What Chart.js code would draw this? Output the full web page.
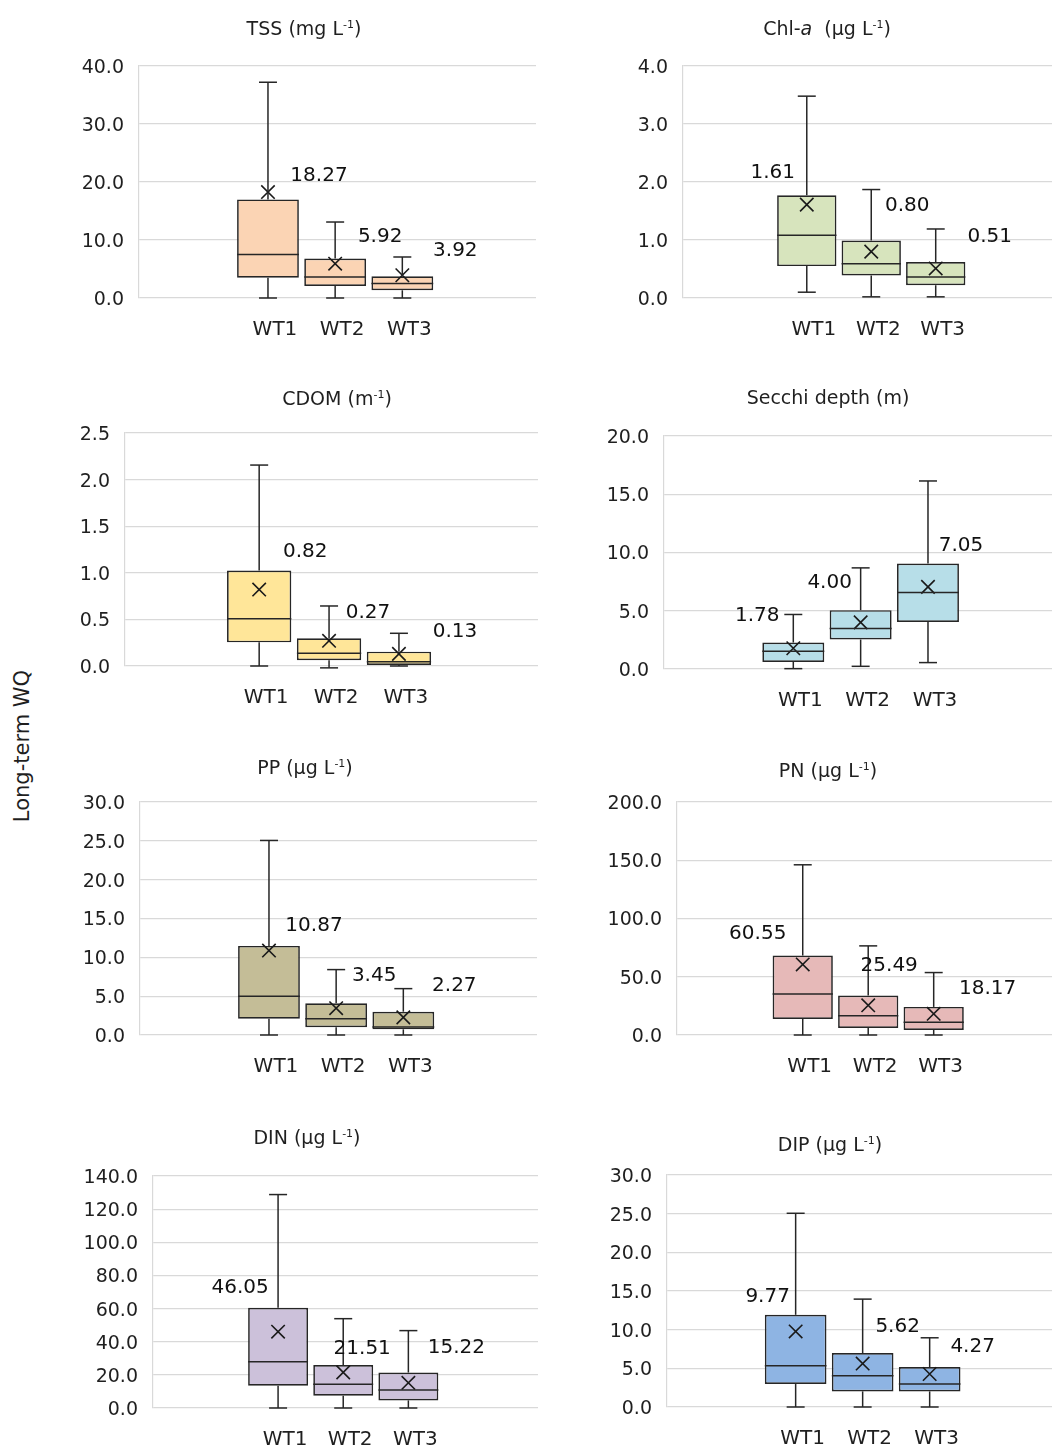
<!DOCTYPE html>
<html><head><meta charset="utf-8">
<script src="https://cdn.jsdelivr.net/npm/chart.js@4.4.1/dist/chart.umd.min.js"></script>
<style>
html,body{margin:0;padding:0;background:#fff;overflow:hidden;}
#page{position:relative;width:1052px;height:1447px;overflow:hidden;background:#fff;}
#page canvas{position:absolute;}
#ylabel{position:absolute;left:22px;top:746px;transform:translate(-50%,-50%) rotate(-90deg);font:21px 'DejaVu Sans',sans-serif;color:#1f1f1f;white-space:nowrap;}
</style></head><body><div id="page"><div id="ylabel">Long-term WQ</div></div>
<script>
// ---------- data ----------
const CATEGORIES = ['WT1', 'WT2', 'WT3'];
// panel titles as text segments: [text, style] ('' normal, 'it' italic, 'sup' superscript)
const PANEL_TITLES = [
  [['TSS (mg L', ''], ['-1', 'sup'], [')', '']],
  [['Chl-', ''], ['a', 'it'], ['  (µg L', ''], ['-1', 'sup'], [')', '']],
  [['CDOM (m', ''], ['-1', 'sup'], [')', '']],
  [['Secchi depth (m)', '']],
  [['PP (µg L', ''], ['-1', 'sup'], [')', '']],
  [['PN (µg L', ''], ['-1', 'sup'], [')', '']],
  [['DIN (µg L', ''], ['-1', 'sup'], [')', '']],
  [['DIP (µg L', ''], ['-1', 'sup'], [')', '']]
];
const Y_MAX  = [40, 4, 2.5, 20, 30, 200, 140, 30];
const Y_STEP = [10, 1, 0.5, 5, 5, 50, 20, 5];
const WHISKER_MIN = [[0, 0, 0], [0.10, 0.02, 0.02], [0, -0.02, 0], [0.03, 0.23, 0.55], [0, 0, 0], [0, 0, 0], [0, 0, 0], [0, 0, 0]];
const Q1     = [[3.5, 2.07, 1.33], [0.55, 0.39, 0.22], [0.254, 0.061, 0.011], [0.60, 2.53, 4.04], [2.1, 0.99, 0.73], [13.75, 6.0, 4.3], [13.4, 7.4, 4.6], [2.97, 2.02, 2.02]];
const MEDIAN = [[7.5, 3.6, 2.48], [1.08, 0.59, 0.36], [0.508, 0.136, 0.046], [1.52, 3.47, 6.57], [4.99, 2.1, 1.03], [35.2, 16.6, 10.9], [27.9, 14.4, 10.8], [5.33, 4.04, 2.97]];
const Q3     = [[17.0, 6.8, 3.74], [1.77, 0.99, 0.62], [1.024, 0.297, 0.154], [2.27, 5.05, 9.06], [11.47, 4.08, 3.0], [68.2, 33.8, 24.1], [60.5, 25.9, 21.4], [11.92, 6.97, 5.17]];
const WHISKER_MAX = [[37.2, 13.1, 7.07], [3.48, 1.87, 1.19], [2.156, 0.644, 0.351], [4.68, 8.68, 16.14], [25.05, 8.42, 5.97], [146.1, 76.5, 53.6], [128.8, 53.9, 46.7], [25.05, 13.95, 8.95]];
const MEAN   = [[18.27, 5.92, 3.92], [1.61, 0.80, 0.51], [0.82, 0.27, 0.13], [1.78, 4.00, 7.05], [10.87, 3.45, 2.27], [60.55, 25.49, 18.17], [46.05, 21.51, 15.22], [9.77, 5.62, 4.27]];

// ---------- styles & layout ----------
const FILL_COLORS = ['#FBD4B4', '#D7E4BD', '#FFE699', '#B7DEE8', '#C4BD97', '#E6B9B8', '#CCC1DA', '#8EB4E3'];
const FONT = "'DejaVu Sans', sans-serif";
const LINE = '#262626';
const TEXT = '#1f1f1f';
// plot area [left, top, right, bottom] in page pixels
const PLOT_RECTS = [
  [139, 66, 536, 298], [683, 66, 1064, 298],
  [125, 433, 538, 666], [664, 436, 1062, 669],
  [140, 802, 537, 1035], [677, 802, 1064, 1035],
  [153, 1176, 538, 1408], [667, 1175, 1063, 1407]
];
const TITLE_POS = [[304, 28], [827, 28], [337, 398], [828, 397], [305, 767], [828, 770], [307, 1137], [830, 1144]];
const LABEL_OFFSETS = [
  [[51, -16], [45, -27], [53, -24]],
  [[-34, -32], [36, -46], [54, -32]],
  [[46, -38], [39, -28], [56, -22]],
  [[-36, -32], [-31, -40], [33, -41]],
  [[45, -25], [38, -32], [51, -32]],
  [[-45, -31], [21, -40], [54, -25]],
  [[-38, -44], [19, -24], [48, -35]],
  [[-28, -35], [35, -37], [43, -27]]
];
const X_MIN = -1.92, X_MAX = 3.99;
const YW = 95, TH = 72, XH = 50, RP = 2, CAP = 9;

function boxPlugin(p, canvasLeft, canvasTop) {
  return {
    id: 'boxExtras' + p,
    afterDatasetsDraw(chart) {
      const ctx = chart.ctx, xs = chart.scales.x, ys = chart.scales.y;
      const barMeta = chart.getDatasetMeta(1);
      ctx.save();
      ctx.strokeStyle = LINE;
      ctx.lineWidth = 1.5;
      const seg = (x1, y1, x2, y2) => { ctx.beginPath(); ctx.moveTo(x1, y1); ctx.lineTo(x2, y2); ctx.stroke(); };
      CATEGORIES.forEach((c, i) => {
        const x = xs.getPixelForValue(i);
        const bw = barMeta.data[i].width;
        const yMin = ys.getPixelForValue(WHISKER_MIN[p][i]);
        const yQ1 = ys.getPixelForValue(Q1[p][i]);
        const yMed = ys.getPixelForValue(MEDIAN[p][i]);
        const yQ3 = ys.getPixelForValue(Q3[p][i]);
        const yMax = ys.getPixelForValue(WHISKER_MAX[p][i]);
        seg(x, yMax, x, yQ3);
        seg(x, yQ1, x, yMin);
        seg(x - CAP, yMax, x + CAP, yMax);
        seg(x - CAP, yMin, x + CAP, yMin);
        seg(x - bw / 2, yMed, x + bw / 2, yMed);
      });
      ctx.fillStyle = '#111';
      ctx.font = '20px ' + FONT;
      ctx.textAlign = 'center';
      ctx.textBaseline = 'middle';
      CATEGORIES.forEach((c, i) => {
        const x = xs.getPixelForValue(i);
        const y = ys.getPixelForValue(MEAN[p][i]);
        const [dx, dy] = LABEL_OFFSETS[p][i];
        ctx.fillText(MEAN[p][i].toFixed(2), x + dx, y + dy);
      });
      ctx.restore();
    },
    afterDraw(chart) {
      const ctx = chart.ctx;
      const size = 19;
      const fontFor = (st) => st === 'sup' ? `${Math.round(size * 0.6)}px ${FONT}` : (st === 'it' ? `italic ${size}px ${FONT}` : `${size}px ${FONT}`);
      ctx.save();
      ctx.fillStyle = TEXT;
      ctx.textBaseline = 'alphabetic';
      ctx.textAlign = 'left';
      let total = 0;
      PANEL_TITLES[p].forEach(([t, st]) => { ctx.font = fontFor(st); total += ctx.measureText(t).width; });
      let x = TITLE_POS[p][0] - canvasLeft - total / 2;
      const base = TITLE_POS[p][1] - canvasTop + size * 0.36;
      PANEL_TITLES[p].forEach(([t, st]) => {
        ctx.font = fontFor(st);
        ctx.fillText(t, x, st === 'sup' ? base - size * 0.34 : base);
        x += ctx.measureText(t).width;
      });
      ctx.restore();
    }
  };
}

const page = document.getElementById('page');
PANEL_TITLES.forEach((title, p) => {
  const [L, T, R, B] = PLOT_RECTS[p];
  const cl = L - YW, ct = T - TH;
  const cw = R - L + YW + RP, chh = B - T + TH + XH;
  const canvas = document.createElement('canvas');
  canvas.width = cw; canvas.height = chh;
  canvas.style.left = cl + 'px'; canvas.style.top = ct + 'px';
  canvas.style.width = cw + 'px'; canvas.style.height = chh + 'px';
  page.appendChild(canvas);
  new Chart(canvas.getContext('2d'), {
    type: 'bar',
    data: {
      datasets: [
        {
          type: 'scatter', order: 0,
          data: CATEGORIES.map((c, i) => ({ x: i, y: MEAN[p][i] })),
          pointStyle: 'crossRot', radius: 9.5, hoverRadius: 9.5,
          borderColor: '#1a1a1a', borderWidth: 1.6, backgroundColor: 'rgba(0,0,0,0)'
        },
        {
          type: 'bar', order: 1,
          data: CATEGORIES.map((c, i) => ({ x: i, y: [Q1[p][i], Q3[p][i]] })),
          backgroundColor: FILL_COLORS[p], borderColor: LINE, borderWidth: 1.7,
          borderSkipped: false, barPercentage: 0.92, categoryPercentage: 1
        }
      ]
    },
    options: {
      responsive: false, animation: false, devicePixelRatio: 1,
      layout: { autoPadding: false, padding: { top: TH, right: RP, left: 0, bottom: 0 } },
      plugins: { legend: { display: false }, tooltip: { enabled: false }, title: { display: false } },
      scales: {
        x: {
          type: 'linear', min: X_MIN, max: X_MAX, offset: false,
          grid: { display: false }, border: { display: false },
          afterBuildTicks: (s) => { s.ticks = CATEGORIES.map((c, i) => ({ value: i })); },
          afterFit: (s) => { s.height = XH; },
          ticks: {
            callback: (v) => CATEGORIES[v] ?? '',
            font: { family: FONT, size: 20 }, color: TEXT,
            padding: 12, autoSkip: false, maxRotation: 0, minRotation: 0, labelOffset: 7
          }
        },
        y: {
          min: 0, max: Y_MAX[p],
          afterFit: (s) => { s.width = YW; },
          ticks: {
            stepSize: Y_STEP[p], callback: (v) => Number(v).toFixed(1),
            font: { family: FONT, size: 19 }, color: TEXT, padding: 15, labelOffset: 2
          },
          grid: { color: '#d9d9d9', lineWidth: 1.2, drawTicks: false },
          border: { display: true, color: '#d9d9d9', width: 1.2 }
        }
      }
    },
    plugins: [boxPlugin(p, cl, ct)]
  });
});
</script>
</body></html>
